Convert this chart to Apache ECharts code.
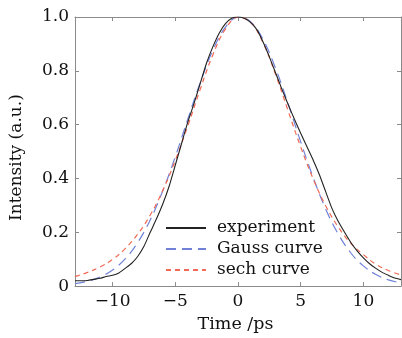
<!DOCTYPE html>
<html><head><meta charset="utf-8">
<script src="https://cdn.jsdelivr.net/npm/echarts@6/dist/echarts.min.js"></script>
<style>html,body{margin:0;padding:0;background:#fff}#c{width:402px;height:338px}</style>
</head><body><div id="c"></div>
<script>
// Time axis (ps) for the fitted curves
const fitTime = [-13,-12,-11,-10,-9,-8,-7,-6,-5,-4,-3,-2,-1,0,1,2,3,4,5,6,7,8,9,10,11,12,13];
const gaussValues = [0.009,0.018,0.034,0.060,0.101,0.162,0.246,0.354,0.481,0.621,0.758,0.877,0.962,0.999,0.983,0.916,0.809,0.677,0.536,0.403,0.286,0.193,0.123,0.075,0.043,0.023,0.012];
const sechValues = [0.035,0.051,0.071,0.099,0.139,0.193,0.264,0.355,0.467,0.596,0.733,0.860,0.955,0.999,0.980,0.904,0.786,0.651,0.517,0.398,0.298,0.219,0.159,0.117,0.081,0.058,0.041];
// Experimental trace
const expTime = [-13,-12.5,-12,-11.5,-11,-10.5,-10,-9.5,-9,-8.5,-8,-7.5,-7,-6.5,-6,-5.5,-5,-4.5,-4,-3.5,-3,-2.5,-2,-1.5,-1,-0.5,0,0.5,1,1.5,2,2.5,3,3.5,4,4.5,5,5.5,6,6.5,7,7.5,8,8.5,9,9.5,10,10.5,11,11.5,12,12.5,13];
const expValues = [0.020,0.020,0.021,0.025,0.029,0.036,0.040,0.049,0.066,0.084,0.110,0.148,0.200,0.250,0.305,0.370,0.450,0.530,0.610,0.680,0.755,0.830,0.890,0.940,0.975,0.995,1.000,0.995,0.980,0.953,0.907,0.852,0.792,0.732,0.675,0.620,0.568,0.518,0.468,0.413,0.350,0.288,0.240,0.200,0.162,0.131,0.105,0.083,0.066,0.051,0.040,0.030,0.024];
const xTicks = [-10,-5,0,5,10];
const names = ['experiment','Gauss curve','sech curve'];

const zip = (a,b) => a.map((v,i)=>[v,b[i]]);
const font = 'DejaVu Serif';
const fs = 17;
const axisColor = '#8a8a8a';
const txt = '#111';
const chart = echarts.init(document.getElementById('c'));
chart.setOption({
  animation:false,
  backgroundColor:'#fff',
  grid:{left:74,right:1,top:17,bottom:47},
  legend:{
    orient:'vertical', left:160, top:213, itemWidth:40, itemHeight:14, itemGap:1,
    itemStyle:{opacity:0,borderWidth:0},
    textStyle:{fontFamily:font,fontSize:fs,color:txt,lineHeight:20,padding:[0,0,0,6]},
    data:names
  },
  xAxis:[{
    type:'value', min:-13, max:13, position:'bottom',
    axisLine:{onZero:false,lineStyle:{color:axisColor,width:1}},
    axisTick:{inside:true,length:4,lineStyle:{color:axisColor},customValues:xTicks},
    axisLabel:{customValues:xTicks,fontFamily:font,fontSize:fs,color:txt,margin:7,
      formatter:v=> v<0 ? '\u2212'+Math.abs(v) : String(v)},
    splitLine:{show:false},
    name:'Time /ps', nameLocation:'middle', nameGap:27,
    nameTextStyle:{fontFamily:font,fontSize:17.5,color:txt,padding:[0,5,0,0]}
  },{
    type:'value', min:-13, max:13, position:'top',
    axisLine:{onZero:false,lineStyle:{color:axisColor,width:1}},
    axisTick:{inside:true,length:4,lineStyle:{color:axisColor},customValues:xTicks},
    axisLabel:{show:false}, splitLine:{show:false}
  }],
  yAxis:[{
    type:'value', min:0, max:1, interval:0.2, position:'left',
    axisLine:{show:true,onZero:false,lineStyle:{color:axisColor,width:1}},
    axisTick:{show:true,inside:true,length:4,lineStyle:{color:axisColor}},
    axisLabel:{fontFamily:font,fontSize:fs,color:txt,margin:6,
      formatter:v=> v===0 ? '0' : v.toFixed(1)},
    splitLine:{show:false},
    name:'Intensity (a.u.)', nameLocation:'middle', nameGap:50,
    nameTextStyle:{fontFamily:font,fontSize:fs,color:txt,padding:[0,12,0,0]}
  },{
    type:'value', min:0, max:1, interval:0.2, position:'right',
    axisLine:{show:true,onZero:false,lineStyle:{color:axisColor,width:1}},
    axisTick:{show:true,inside:true,length:4,lineStyle:{color:axisColor}},
    axisLabel:{show:false}, splitLine:{show:false}
  }],
  series:[
    {name:names[0],type:'line',data:zip(expTime,expValues),showSymbol:false,symbol:'none',smooth:0.2,
     lineStyle:{color:'#222',width:1.1},itemStyle:{color:'#222'},z:3},
    {name:names[1],type:'line',data:zip(fitTime,gaussValues),showSymbol:false,symbol:'none',smooth:0.4,
     lineStyle:{color:'#7082d8',width:1.2,type:[10,6]},itemStyle:{color:'#7082d8'},z:2},
    {name:names[2],type:'line',data:zip(fitTime,sechValues),showSymbol:false,symbol:'none',smooth:0.4,
     lineStyle:{color:'#f06a55',width:1.2,type:[5,4]},itemStyle:{color:'#f06a55'},z:2}
  ]
});
</script></body></html>
